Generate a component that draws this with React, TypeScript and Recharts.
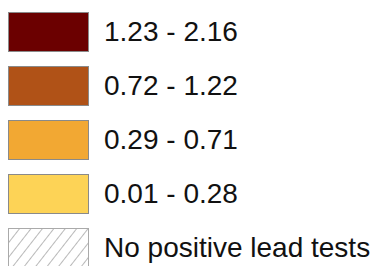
import { Bar, BarChart, Legend } from 'recharts';

const LABELS = ['1.23 - 2.16', '0.72 - 1.22', '0.29 - 0.71', '0.01 - 0.28', 'No positive lead tests'];
const COLORS = ['#6b0000', '#b05217', '#f2a833', '#fdd356', '#ffffff'];
const KEYS = ['c1', 'c2', 'c3', 'c4', 'none'];
const VALUES = [0, 0, 0, 0, 0];

const data = [Object.fromEntries(KEYS.map((k, i) => [k, VALUES[i]]))];

type Item = { value?: string; color?: string };

function Swatch({ color, hatched }: { color: string; hatched: boolean }) {
  return (
    <svg width={82} height={41} style={{ display: 'block' }}>
      <defs>
        <pattern id="hatchFill" width={9} height={9} patternUnits="userSpaceOnUse" patternTransform="rotate(38)">
          <line x1={0} y1={0} x2={0} y2={9} stroke="#9a9a9a" strokeWidth={1.4} />
        </pattern>
      </defs>
      <rect
        x={0.5}
        y={0.5}
        width={80}
        height={39}
        fill={hatched ? 'url(#hatchFill)' : color}
        stroke={hatched ? '#aaaaaa' : '#8a8a8a'}
        strokeWidth={1}
      />
    </svg>
  );
}

function LegendList({ payload }: { payload?: Item[] }) {
  // keep the legend in the label order, whatever order recharts hands it over
  const items = [...(payload ?? [])].sort(
    (a, b) => LABELS.indexOf(a.value ?? '') - LABELS.indexOf(b.value ?? ''),
  );
  return (
    <div style={{ position: 'relative', width: 378, height: 258 }}>
      {items.map((it, i) => (
        <div key={i} style={{ position: 'absolute', left: 0, top: 4 + i * 54, height: 40, display: 'flex', alignItems: 'center' }}>
          <Swatch color={it.color ?? '#fff'} hatched={it.value === LABELS[4]} />
          <span
            style={{
              marginLeft: 14,
              fontFamily: '"Liberation Sans", Arial, sans-serif',
              fontSize: 28,
              color: '#111',
              whiteSpace: 'nowrap',
              lineHeight: '40px',
            }}
          >
            {it.value}
          </span>
        </div>
      ))}
    </div>
  );
}

export default function App() {
  return (
    <BarChart width={378} height={258} data={data} margin={{ top: 0, right: 0, bottom: 0, left: 0 }}>
      {KEYS.map((k, i) => (
        <Bar key={k} dataKey={k} name={LABELS[i]} fill={COLORS[i]} isAnimationActive={false} />
      ))}
      <Legend
        content={(props: any) => <LegendList payload={props.payload} />}
        wrapperStyle={{ position: 'absolute', top: 0, left: 0, width: 378, height: 258 }}
      />
    </BarChart>
  );
}
